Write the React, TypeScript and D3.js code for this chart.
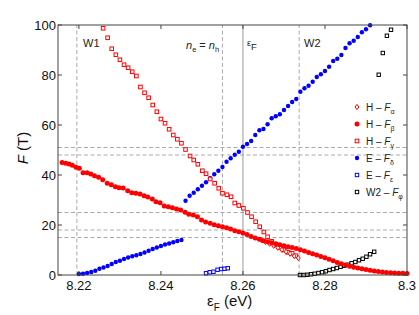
import { useEffect } from "react"
import * as d3 from "d3"

// energies (eV) and frequencies (T)
const hAlpha: [number, number][] = [
  [8.2645, 14.0], [8.2655, 13.2], [8.2665, 12.5], [8.2675, 11.7], [8.2685, 10.9],
  [8.2695, 10.1], [8.2705, 9.3], [8.2715, 8.5], [8.2725, 7.6], [8.2735, 6.8],
]

const hBeta: [number, number][] = [
  [8.2159, 45.0], [8.2168, 44.7], [8.2176, 44.4], [8.2184, 43.9], [8.2193, 43.1], [8.2201, 42.7],
  [8.221, 40.9], [8.222, 40.9], [8.2229, 40.4], [8.2238, 39.7], [8.2248, 39.1], [8.2258, 38.1],
  [8.2269, 36.7], [8.2279, 36.1], [8.2289, 35.3], [8.2298, 34.9], [8.2308, 34.8], [8.2319, 33.7],
  [8.2329, 32.9], [8.2339, 32.7], [8.2349, 32.4], [8.2359, 31.7], [8.2368, 31.2], [8.2379, 30.4],
  [8.2388, 29.3], [8.2398, 28.9], [8.2408, 27.6], [8.2418, 27.3], [8.2428, 26.9], [8.2438, 26.4],
  [8.2448, 26.0], [8.2459, 25.1], [8.2468, 24.3], [8.2479, 24.0], [8.2489, 23.3], [8.2499, 22.0],
  [8.2509, 21.2], [8.252, 20.7], [8.253, 20.1], [8.254, 19.7], [8.255, 19.3], [8.256, 18.9],
  [8.257, 18.4], [8.258, 17.7], [8.259, 17.3], [8.26, 16.8], [8.261, 16.2], [8.262, 15.4],
  [8.263, 14.8], [8.264, 14.3], [8.265, 13.7], [8.266, 13.3], [8.267, 12.9], [8.268, 12.5],
  [8.269, 12.1], [8.27, 11.7], [8.271, 11.3], [8.272, 11.0], [8.273, 10.6], [8.274, 10.1],
  [8.275, 9.6], [8.276, 9.0], [8.277, 8.5], [8.278, 8.0], [8.279, 7.4], [8.28, 6.9],
  [8.281, 6.3], [8.282, 5.7], [8.283, 5.0], [8.284, 4.5], [8.285, 4.0], [8.286, 3.5],
  [8.287, 3.1], [8.288, 2.8], [8.289, 2.5], [8.29, 2.2], [8.291, 1.9], [8.292, 1.6],
  [8.293, 1.4], [8.294, 1.2], [8.295, 1.0], [8.296, 0.9], [8.297, 0.8], [8.298, 0.7],
  [8.299, 0.7], [8.3, 0.6],
]

const hGamma: [number, number][] = [
  [8.2259, 98.7], [8.227, 94.9], [8.228, 90.5], [8.229, 88.1], [8.23, 86.1], [8.231, 84.1],
  [8.232, 82.9], [8.233, 81.3], [8.234, 79.6], [8.235, 75.2], [8.236, 72.9], [8.237, 70.9],
  [8.238, 68.0], [8.239, 65.3], [8.24, 62.4], [8.241, 60.7], [8.242, 58.3], [8.243, 56.0],
  [8.244, 54.3], [8.245, 52.7], [8.246, 50.2], [8.2471, 47.6], [8.248, 46.0], [8.249, 44.3],
  [8.2501, 41.7], [8.251, 40.5], [8.252, 38.4], [8.2531, 36.7], [8.2541, 34.7], [8.255, 32.7],
  [8.2561, 32.1], [8.2571, 31.3], [8.258, 28.8], [8.259, 27.8], [8.2601, 26.7], [8.2611, 25.0],
  [8.2621, 23.3], [8.2631, 21.3], [8.2641, 19.3], [8.2651, 17.2], [8.266, 15.3], [8.267, 13.5],
  [8.2681, 12.1], [8.269, 11.1], [8.27, 10.0], [8.271, 9.1], [8.272, 8.7], [8.2729, 7.7],
]

const eDelta: [number, number][] = [
  // lower branch
  [8.22, 0.4], [8.221, 0.5], [8.222, 0.8], [8.223, 1.2], [8.224, 1.7], [8.225, 2.5],
  [8.226, 3.0], [8.227, 3.6], [8.228, 4.4], [8.229, 5.2], [8.23, 5.7], [8.231, 6.4],
  [8.232, 7.0], [8.233, 7.5], [8.234, 7.9], [8.235, 8.4], [8.236, 9.0], [8.237, 9.7],
  [8.238, 10.4], [8.239, 11.0], [8.24, 11.6], [8.241, 12.2], [8.242, 12.6], [8.243, 13.1],
  [8.244, 13.6], [8.245, 14.0],
  // upper branch
  [8.246, 29.7], [8.247, 31.7], [8.248, 32.9], [8.249, 34.3], [8.25, 35.7], [8.251, 37.1],
  [8.252, 38.7], [8.253, 40.3], [8.254, 41.7], [8.255, 43.2], [8.256, 45.3], [8.257, 46.7],
  [8.258, 48.1], [8.259, 49.3], [8.26, 51.3], [8.261, 52.4], [8.262, 53.6], [8.263, 56.0],
  [8.264, 57.9], [8.265, 58.4], [8.266, 60.3], [8.267, 62.7], [8.268, 63.5], [8.269, 64.3],
  [8.27, 66.0], [8.271, 67.6], [8.272, 69.2], [8.273, 70.4], [8.274, 73.3], [8.275, 74.7],
  [8.276, 75.7], [8.277, 77.3], [8.278, 79.2], [8.279, 80.3], [8.28, 81.6], [8.281, 83.3],
  [8.282, 85.6], [8.283, 86.5], [8.284, 88.0], [8.285, 90.8], [8.286, 92.7], [8.287, 93.7],
  [8.288, 95.2], [8.289, 97.1], [8.29, 98.3], [8.291, 99.9],
]

const eEps: [number, number][] = [
  [8.251, 0.7], [8.2519, 1.1], [8.2528, 1.3], [8.2538, 2.1], [8.2547, 2.4], [8.2555, 2.5], [8.2563, 2.7],
]

const w2Phi: [number, number][] = [
  [8.2739, 0.0], [8.2748, 0.0], [8.2757, 0.1], [8.2766, 0.3], [8.2775, 0.5], [8.2784, 0.8],
  [8.2793, 1.1], [8.2802, 1.5], [8.2811, 2.0], [8.282, 2.4], [8.2829, 2.8], [8.2838, 3.3],
  [8.2847, 3.7], [8.2856, 4.1], [8.2865, 4.7], [8.2874, 5.2], [8.2883, 5.9], [8.2892, 6.5],
  [8.2901, 7.3], [8.291, 8.3], [8.292, 9.3],
  [8.2931, 80.1], [8.2941, 88.8], [8.2951, 95.7], [8.2961, 98.1],
]

const xTicks = [8.22, 8.24, 8.26, 8.28, 8.3]
const xTickLabels = ["8.22", "8.24", "8.26", "8.28", "8.3"]
const yTicks = [0, 20, 40, 60, 80, 100]
const dashedE = [8.2195, 8.255, 8.2737] // W1, ne=nh, W2
const fermiE = 8.26
const dashedF = [15, 18, 25, 48, 51]

type Marker = "diamond" | "circle" | "square" | "dot" | "bsquare" | "ksquare"
const legend: { label: string; sub: string; marker: Marker }[] = [
  { label: "H – ", sub: "α", marker: "diamond" },
  { label: "H – ", sub: "β", marker: "circle" },
  { label: "H – ", sub: "γ", marker: "square" },
  { label: "E – ", sub: "δ", marker: "dot" },
  { label: "E – ", sub: "ε", marker: "bsquare" },
  { label: "W2 – ", sub: "φ", marker: "ksquare" },
]

const W = 419
const H = 315
const m = { left: 58, right: 12, top: 25, bottom: 40 }
const font = "'Liberation Sans', Arial, Helvetica, sans-serif"

function Mark({ type, x, y }: { type: Marker; x: number; y: number }) {
  switch (type) {
    case "diamond":
      return <path d={`M${x},${y - 2.6}L${x + 1.9},${y}L${x},${y + 2.6}L${x - 1.9},${y}Z`} fill="white" stroke="#ff0000" strokeWidth={1} />
    case "circle":
      return <circle cx={x} cy={y} r={2.5} fill="#ff0000" />
    case "square":
      return <rect x={x - 1.8} y={y - 1.8} width={3.6} height={3.6} fill="white" stroke="#ff0000" strokeWidth={1} />
    case "dot":
      return <circle cx={x} cy={y} r={2.2} fill="#0000ff" />
    case "bsquare":
      return <rect x={x - 1.7} y={y - 1.7} width={3.4} height={3.4} fill="white" stroke="#0000ff" strokeWidth={1} />
    case "ksquare":
      return <rect x={x - 1.7} y={y - 1.7} width={3.4} height={3.4} fill="white" stroke="#000" strokeWidth={1} />
  }
}

export default function App() {
  useEffect(() => {
    document.body.style.margin = "0"
  }, [])

  const x = d3.scaleLinear().domain([8.2149, 8.3]).range([m.left, W - m.right])
  const y = d3.scaleLinear().domain([0, 100]).range([H - m.bottom, m.top])
  const [x0, x1] = x.range()
  const [y0, y1] = y.range()

  const series: { data: [number, number][]; type: Marker }[] = [
    { data: eDelta, type: "dot" },
    { data: eEps, type: "bsquare" },
    { data: w2Phi, type: "ksquare" },
    { data: hGamma, type: "square" },
    { data: hAlpha, type: "diamond" },
    { data: hBeta, type: "circle" },
  ]

  return (
    <svg width={W} height={H} style={{ display: "block", fontFamily: font }}>
      <rect width={W} height={H} fill="white" />

      {/* guide lines */}
      {dashedF.map((f) => (
        <line key={`h${f}`} x1={x0} x2={x1} y1={y(f)} y2={y(f)} stroke="#aaa" strokeDasharray="4,2.5" />
      ))}
      {dashedE.map((e) => (
        <line key={`v${e}`} x1={x(e)} x2={x(e)} y1={y0} y2={y1} stroke="#aaa" strokeDasharray="4,2.5" />
      ))}
      <line x1={x(fermiE)} x2={x(fermiE)} y1={y0} y2={y1} stroke="#999" />

      <defs>
        <clipPath id="plot">
          <rect x={x0 - 3} y={y1 - 3} width={x1 - x0 + 6} height={y0 - y1 + 6} />
        </clipPath>
      </defs>

      {/* data */}
      <g clipPath="url(#plot)">
        {series.map((s, i) => (
          <g key={i}>
            {s.data.map(([e, f], j) => (
              <Mark key={j} type={s.type} x={x(e)} y={y(f)} />
            ))}
          </g>
        ))}
      </g>

      {/* frame and ticks */}
      <rect x={x0} y={y1} width={x1 - x0} height={y0 - y1} fill="none" stroke="#444" />
      {xTicks.map((t, i) => (
        <g key={`xt${t}`}>
          <line x1={x(t)} x2={x(t)} y1={y0} y2={y0 - 4} stroke="#444" />
          <line x1={x(t)} x2={x(t)} y1={y1} y2={y1 + 4} stroke="#444" />
          <text x={x(t)} y={y0 + 15} textAnchor="middle" fontSize={13} fill="#111">
            {xTickLabels[i]}
          </text>
        </g>
      ))}
      {yTicks.map((t) => (
        <g key={`yt${t}`}>
          <line x1={x0} x2={x0 + 4} y1={y(t)} y2={y(t)} stroke="#444" />
          <line x1={x1} x2={x1 - 4} y1={y(t)} y2={y(t)} stroke="#444" />
          <text x={x0 - 2} y={y(t) + 4.5} textAnchor="end" fontSize={13} fill="#111">
            {t}
          </text>
        </g>
      ))}

      {/* annotations */}
      <text x={83} y={46.5} fontSize={11} fill="#222">W1</text>
      <text x={304} y={47} fontSize={11} fill="#222">W2</text>
      <text x={186} y={49} fontSize={11} fill="#222">
        <tspan fontStyle="italic">n</tspan>
        <tspan fontSize={7.5} dy={3}>e</tspan>
        <tspan dy={-3}> = </tspan>
        <tspan fontStyle="italic">n</tspan>
        <tspan fontSize={7.5} dy={3}>h</tspan>
      </text>
      <text x={247} y={46} fontSize={9} fill="#222">
        ε<tspan fontSize={9.5} dy={4}>F</tspan>
      </text>

      {/* axis labels */}
      <text x={207} y={306} fontSize={15} fill="#111">
        ε<tspan fontSize={10} dy={5}>F</tspan>
        <tspan dy={-5}> (eV)</tspan>
      </text>
      <text transform="translate(28,148) rotate(-90)" textAnchor="middle" fontSize={15} fill="#111">
        <tspan fontStyle="italic">F</tspan> (T)
      </text>

      {/* legend */}
      {legend.map((l, i) => {
        const ly = 107 + i * 17
        return (
          <g key={i}>
            <Mark type={l.marker} x={357} y={ly} />
            <text x={366} y={ly + 3.5} fontSize={10} fill="#222">
              {l.label}
              <tspan fontStyle="italic">F</tspan>
              <tspan fontSize={7} dy={3}>{l.sub}</tspan>
            </text>
          </g>
        )
      })}
    </svg>
  )
}
